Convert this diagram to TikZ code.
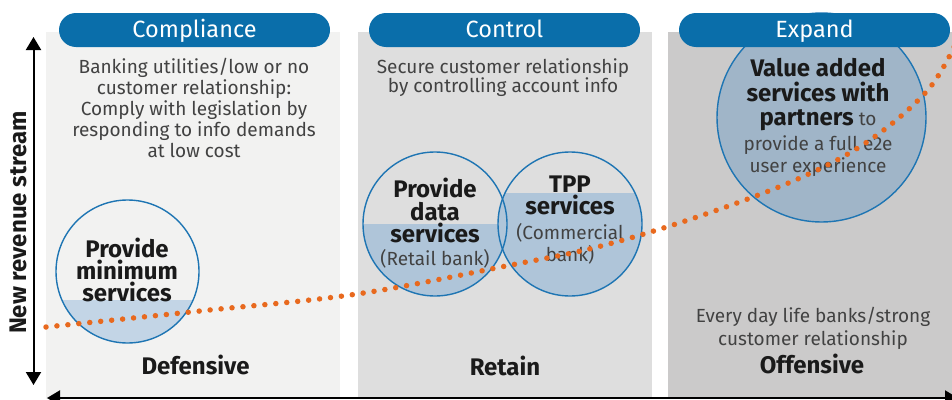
\documentclass[tikz,border=0pt]{standalone}
\usepackage{fontspec}
\setmainfont{Fira Sans}
\usetikzlibrary{arrows.meta}
\definecolor{pillblue}{HTML}{0A6EAA}
\definecolor{pone}{HTML}{F2F2F1}
\definecolor{ptwo}{HTML}{DEDEDE}
\definecolor{pthree}{HTML}{CBCACA}
\definecolor{ringblue}{HTML}{1E75B3}
\definecolor{fillone}{HTML}{C3D5E6}
\definecolor{filltwo}{HTML}{AFC5D9}
\definecolor{fillthree}{HTML}{A0B5C8}
\definecolor{dotorange}{HTML}{E8691E}
\definecolor{txtgray}{HTML}{424242}
\definecolor{txtdark}{HTML}{1A1A1A}
\tikzset{
  pill/.style={rectangle, rounded corners=17pt, fill=pillblue, text=white,
    minimum width=271pt, minimum height=34pt, inner sep=0pt,
    text height=17pt, text depth=2pt,
    font=\fontsize{23.5}{23.5}\selectfont},
  ring/.style={circle, draw=ringblue, line width=1.4pt, inner sep=0pt},
  body/.style={anchor=base, text=txtgray, inner sep=0pt,
    font=\fontsize{19}{19}\selectfont},
  boldtxt/.style={anchor=base, text=txtdark, inner sep=0pt,
    font=\fontsize{24}{24}\selectfont\bfseries},
  axis/.style={line width=2pt, black, {Triangle[length=13pt,width=15pt]}-{Triangle[length=13pt,width=15pt]}},
  dots/.style={dotorange, line width=5.5pt, line cap=round, dash pattern=on 0pt off 11pt}
}
\begin{document}
\begin{tikzpicture}[x=1pt,y=-1pt]
\useasboundingbox (0,0) rectangle (952,399);
% panels
\fill[pone] (46,32) rectangle (340,399);
\fill[ptwo] (358,32) rectangle (652,399);
\fill[pthree] (668,32) rectangle (952,399);
% circle fills
\begin{scope}
  \clip (127.5,271.5) circle (71.5pt);
  \fill[fillone] (50,300) rectangle (210,350);
\end{scope}
\begin{scope}
  \clip (435,224) circle (72pt);
  \fill[filltwo] (360,224) rectangle (510,300);
\end{scope}
\begin{scope}
  \clip (570,224) circle (72pt);
  \fill[filltwo] (495,193.3) rectangle (645,300);
\end{scope}
\fill[fillthree] (821.5,117.5) circle (104.5pt);
% circle outlines
\node[ring, minimum size=143pt] (c1) at (127.5,271.5) {};
\node[ring, minimum size=144pt] (c2) at (435,224) {};
\node[ring, minimum size=144pt] (c3) at (570,224) {};
\node[ring, minimum size=209pt] (c4) at (821.5,117.5) {};
% headers
\node[pill] (h1) at (194.5,30) {Compliance};
\node[pill] (h2) at (504.5,30) {Control};
\node[pill] (h3) at (814.5,30) {Expand};
% panel 1 text
\node[body] (a1) at (194,73) {Banking utilities/low or no};
\node[body] (a2) at (194,94) {customer relationship:};
\node[body] (a3) at (194,115) {Comply with legislation by};
\node[body] (a4) at (194,136) {responding to info demands};
\node[body] (a5) at (194,157) {at low cost};
\node[boldtxt] (m1) at (127,257) {Provide};
\node[boldtxt] (m2) at (127,279) {minimum};
\node[boldtxt] (m3) at (127,301) {services};
\node[boldtxt] (def) at (195.5,374.7) {Defensive};
% panel 2 text
\node[body] (b1) at (503,73) {Secure customer relationship};
\node[body] (b2) at (503,92.5) {by controlling account info};
\node[boldtxt] (d1) at (435,197) {Provide};
\node[boldtxt] (d2) at (435,220) {data};
\node[boldtxt] (d3) at (435,242) {services};
\node[body] (d4) at (435,265) {(Retail bank)};
\node[boldtxt] (t1) at (570,192.5) {TPP};
\node[boldtxt] (t2) at (570,214.5) {services};
\node[body] (t3) at (570,239) {(Commercial};
\node[body] (t4) at (570,261.5) {bank)};
\node[boldtxt] (ret) at (505,375) {Retain};
% panel 3 text
\node[boldtxt] (v1) at (818,76) {Value added};
\node[boldtxt] (v2) at (818,101) {services with};
\node[anchor=base, inner sep=0pt] (v3) at (818,125) {\textcolor{txtdark}{\fontsize{24}{24}\selectfont\bfseries partners}\hspace{5pt}\textcolor{txtgray}{\fontsize{19}{19}\selectfont to}};
\node[body] (v4) at (818,150) {provide a full e2e};
\node[body] (v5) at (818,172) {user experience};
\node[body] (e1) at (813,322) {Every day life banks/strong};
\node[body] (e2) at (813,345) {customer relationship};
\node[boldtxt] (off) at (812,373) {Offensive};
% axis label
\node[boldtxt, anchor=base, rotate=90] (ylab) at (26.7,222.5) {New revenue stream};
% axes
\coordinate (ytop) at (33.5,37);
\coordinate (ybot) at (33.5,385);
\coordinate (xl) at (47,398);
\coordinate (xr) at (958,398);
\draw[axis] (ybot) -- (ytop);
\draw[axis] (xl) -- (xr);
% growth curve
\draw[dots] plot[smooth, tension=0.6] coordinates {(46,327) (200,311) (357,294) (511,265) (600,246.3) (700,216) (800,178) (870,140) (927,91) (955,45)};
\end{tikzpicture}
\end{document}
